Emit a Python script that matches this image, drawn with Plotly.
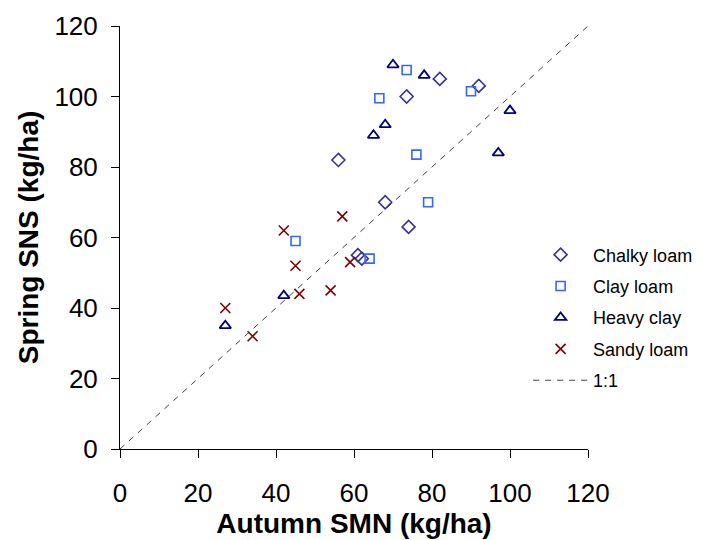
import plotly.graph_objects as go

chalky_x = [56, 73.5, 82, 92, 68, 74, 61, 62]
chalky_y = [82, 100, 105, 103, 70, 63, 55, 54]

clay_x = [73.5, 66.5, 90, 76, 79, 45, 64]
clay_y = [107.5, 99.5, 101.5, 83.5, 70, 59, 54]

heavy_x = [70, 78, 100, 68, 65, 97, 42, 27]
heavy_y = [109, 106, 96, 92, 89, 84, 43.5, 35]

sandy_x = [57, 42, 45, 59, 46, 54, 27, 34]
sandy_y = [66, 62, 52, 53, 44, 45, 40, 32]

line_x = [0, 120]
line_y = [0, 120]

FONT = "Liberation Sans, Arial, sans-serif"

fig = go.Figure()
fig.add_trace(go.Scatter(x=chalky_x, y=chalky_y, mode="markers", name="Chalky loam", legendgroup="a",
                         marker=dict(symbol="diamond-open", size=10, color="#333399",
                                     line=dict(width=1.6, color="#333399"))))
fig.add_trace(go.Scatter(x=clay_x, y=clay_y, mode="markers", name="Clay loam", legendgroup="b",
                         marker=dict(symbol="square-open", size=9, color="#3366FF",
                                     line=dict(width=1.6, color="#3366FF"))))
fig.add_trace(go.Scatter(x=heavy_x, y=heavy_y, mode="markers", name="Heavy clay", legendgroup="c",
                         marker=dict(symbol="triangle-up-open", size=10, color="#000080",
                                     line=dict(width=1.8, color="#000080"))))
fig.add_trace(go.Scatter(x=sandy_x, y=sandy_y, mode="markers", name="Sandy loam", legendgroup="d",
                         marker=dict(symbol="x-thin-open", size=10, color="#800000",
                                     line=dict(width=1.6, color="#800000"))))
fig.add_trace(go.Scatter(x=line_x, y=line_y, mode="lines", name="1:1", legendgroup="e",
                         line=dict(color="#404040", width=1, dash="6px,6px")))

axis_common = dict(
    range=[0, 120], dtick=20, showgrid=False, zeroline=False,
    showline=True, linecolor="black", linewidth=1, automargin=False,
    ticks="outside", ticklen=8, tickcolor="black",
    tickfont=dict(family=FONT, size=26, color="black"),
)

fig.update_layout(
    width=704, height=540,
    margin=dict(l=112, r=124, t=18, b=99),
    paper_bgcolor="white", plot_bgcolor="white",
    xaxis=dict(**axis_common, ticklabelstandoff=13,
               title=dict(text="<b>Autumn SMN (kg/ha)</b>", standoff=0,
                          font=dict(family=FONT, size=28, color="black"))),
    yaxis=dict(**axis_common, ticklabelstandoff=8,
               title=dict(text="<b>Spring SNS (kg/ha)</b>", standoff=7,
                          font=dict(family=FONT, size=28, color="black"))),
    legend=dict(x=0.872, y=0.311, xanchor="left", yanchor="middle",
                font=dict(family=FONT, size=18, color="black"),
                bgcolor="rgba(0,0,0,0)", tracegroupgap=5, itemwidth=55),
    showlegend=True,
)

fig.write_html("out.html")
